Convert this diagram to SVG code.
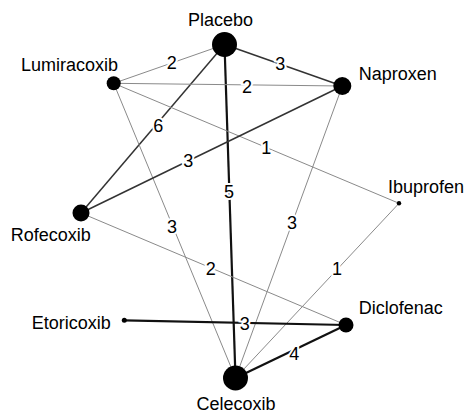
<svg xmlns="http://www.w3.org/2000/svg" width="464" height="417" viewBox="0 0 464 417">
<style>
text{font-family:"Liberation Sans",Arial,sans-serif;font-size:18px;fill:#000}
.n{text-anchor:middle}
.w{text-anchor:middle;dominant-baseline:central;stroke:#fff;stroke-width:4;paint-order:stroke}
.t1{stroke:#8a8a8a;stroke-width:1}
.t2{stroke:#333;stroke-width:1.5}
.t3{stroke:#111;stroke-width:2.2}
line{fill:none}
circle{fill:#000}
</style>
<rect width="464" height="417" fill="#fff"/>
<g id="connectors">
<line class="t1" x1="224.5" y1="44.5" x2="113.7" y2="83.3"/>
<line class="t2" x1="224.5" y1="44.5" x2="342.3" y2="86"/>
<line class="t2" x1="224.5" y1="44.5" x2="81" y2="213"/>
<line class="t3" x1="224.5" y1="44.5" x2="235.5" y2="378"/>
<line class="t1" x1="113.7" y1="83.3" x2="342.3" y2="86"/>
<line class="t1" x1="113.7" y1="83.3" x2="399" y2="203.3"/>
<line class="t1" x1="113.7" y1="83.3" x2="235.5" y2="378"/>
<line class="t2" x1="342.3" y1="86" x2="81" y2="213"/>
<line class="t1" x1="342.3" y1="86" x2="235.5" y2="378"/>
<line class="t1" x1="81" y1="213" x2="346" y2="325"/>
<line class="t1" x1="399" y1="203.3" x2="235.5" y2="378"/>
<line class="t3" x1="124.3" y1="320.3" x2="346" y2="325"/>
<line class="t3" x1="235.5" y1="378" x2="346" y2="325"/>
<text class="w" x="171.7" y="63.3">2</text>
<text class="w" x="280.3" y="64">3</text>
<text class="w" x="158.3" y="126">6</text>
<text class="w" x="229" y="191.5">5</text>
<text class="w" x="247" y="87.3">2</text>
<text class="w" x="266.3" y="148.3">1</text>
<text class="w" x="172" y="227">3</text>
<text class="w" x="188.3" y="161">3</text>
<text class="w" x="292" y="222.5">3</text>
<text class="w" x="210.7" y="268.7">2</text>
<text class="w" x="337" y="269.3">1</text>
<text class="w" x="244.7" y="323.7">3</text>
<text class="w" x="294.3" y="353.7">4</text>
</g>
<g id="placebo"><circle cx="224.5" cy="44.5" r="12.5"/><text class="n" x="220.5" y="26">Placebo</text></g>
<g id="lumiracoxib"><circle cx="113.7" cy="83.3" r="7"/><text class="n" x="69.5" y="71">Lumiracoxib</text></g>
<g id="naproxen"><circle cx="342.3" cy="86" r="9"/><text x="358.7" y="80">Naproxen</text></g>
<g id="ibuprofen"><circle cx="399" cy="203.3" r="2.2"/><text x="388" y="193.3">Ibuprofen</text></g>
<g id="rofecoxib"><circle cx="81" cy="213" r="8.5"/><text x="10.7" y="241.3">Rofecoxib</text></g>
<g id="etoricoxib"><circle cx="124.3" cy="320.3" r="2.5"/><text x="31.7" y="328.7">Etoricoxib</text></g>
<g id="diclofenac"><circle cx="346" cy="325" r="7.5"/><text x="358.7" y="314.3">Diclofenac</text></g>
<g id="celecoxib"><circle cx="235.5" cy="378" r="12.5"/><text class="n" x="236" y="410.3">Celecoxib</text></g>
</svg>
